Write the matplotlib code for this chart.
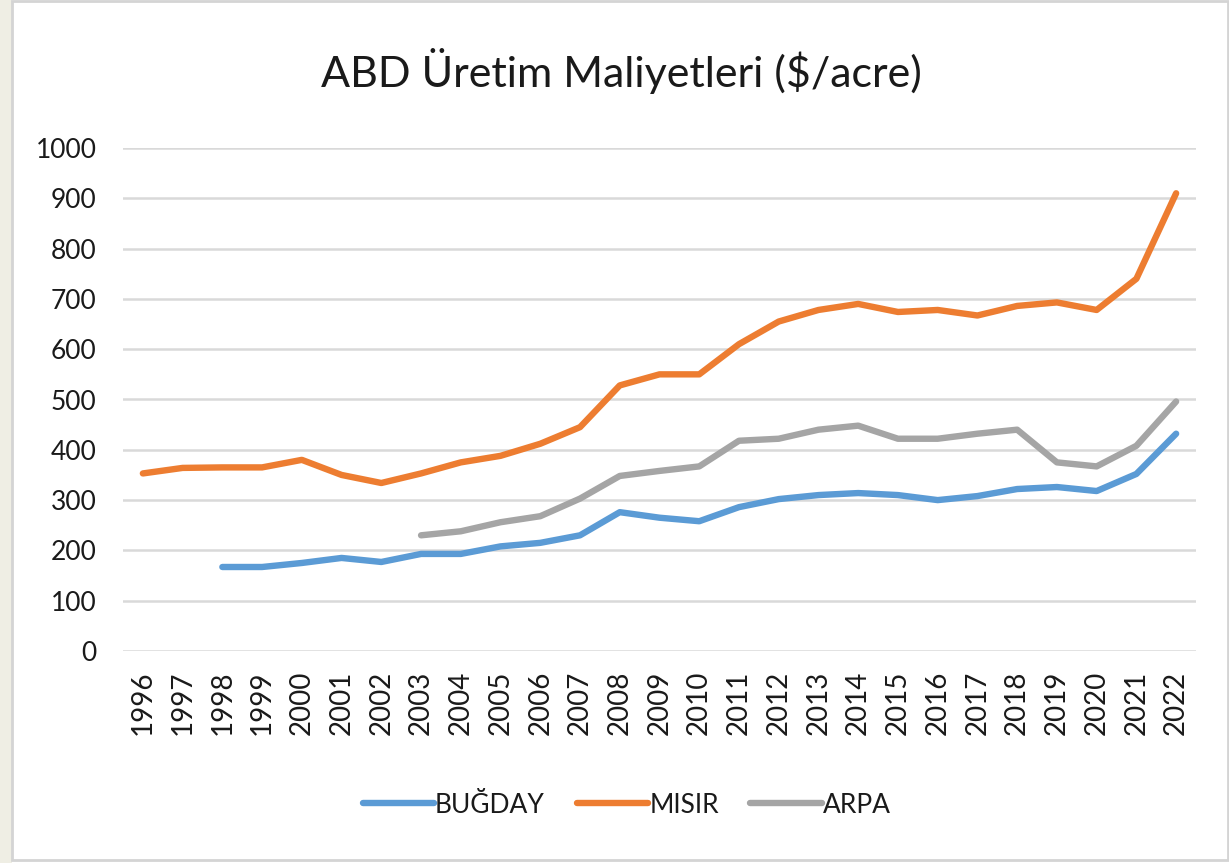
import matplotlib.pyplot as plt
from matplotlib.patches import Rectangle

# data
years = [str(y) for y in range(1996, 2023)]

bugday = [None, None, 167, 167, 175, 185, 177, 193, 193, 208, 215, 230, 276, 265, 258,
          286, 302, 310, 314, 310, 300, 308, 322, 326, 318, 352, 432]
misir = [353, 364, 365, 365, 380, 350, 334, 353, 375, 388, 412, 445, 528, 550, 550,
         610, 655, 678, 690, 674, 678, 667, 686, 693, 678, 740, 910]
arpa = [None, None, None, None, None, None, None, 230, 238, 256, 268, 303, 348, 358, 367,
        418, 422, 440, 448, 422, 422, 432, 440, 375, 367, 408, 496]

series_names = ["BUĞDAY", "MISIR", "ARPA"]
colors = ["#5b9bd5", "#ed7d31", "#a5a5a5"]

plt.rcParams['font.family'] = ['Lato', 'DejaVu Sans']

fig = plt.figure(figsize=(12.29, 8.63), dpi=100)
fig.patch.set_facecolor("white")

# beige strip on the left and thin frame of the chart area
fig.patches.append(Rectangle((0, 0), 12 / 1229, 1, transform=fig.transFigure,
                             facecolor="#efeee4", edgecolor="none", zorder=0))
fig.patches.append(Rectangle((12 / 1229, 3 / 863), 1 - 13 / 1229, 1 - 4 / 863,
                             transform=fig.transFigure, facecolor="none",
                             edgecolor="#d4d4d4", linewidth=2, zorder=1))

ax = fig.add_axes([123 / 1229, 1 - 651 / 863, (1196 - 123) / 1229, (651 - 148) / 863])

x = list(range(len(years)))
for vals, name, c in zip([bugday, misir, arpa], series_names, colors):
    xs = [i for i, v in zip(x, vals) if v is not None]
    ys = [v for v in vals if v is not None]
    ax.plot(xs, ys, color=c, linewidth=4.6, label=name,
            solid_capstyle="round", solid_joinstyle="round", zorder=3)

ax.set_xlim(-0.5, len(years) - 0.5)
ax.set_ylim(0, 1000)
ax.set_yticks(range(0, 1001, 100))
ax.set_xticks(x)
ax.set_xticklabels(years, rotation=90, fontsize=20, color="#1a1a1a")
ax.tick_params(axis="y", labelsize=19, labelcolor="#1a1a1a", length=0, pad=19)
ax.tick_params(axis="x", length=0, pad=14)
ax.grid(axis="y", color="#d9d9d9", linewidth=1.8, zorder=0)
for s in ax.spines.values():
    s.set_visible(False)

fig.text(0.506, 1 - 71 / 863, "ABD Üretim Maliyetleri ($/acre)", ha="center", va="center",
         fontsize=31, color="#1a1a1a")

fig.legend(loc="center", bbox_to_anchor=(0.51, 1 - 805 / 863), ncol=3, frameon=False,
           fontsize=19, handlelength=2.7, handletextpad=0.05, columnspacing=1.2,
           labelcolor="#1a1a1a")

fig.savefig("out.png", dpi=100)
